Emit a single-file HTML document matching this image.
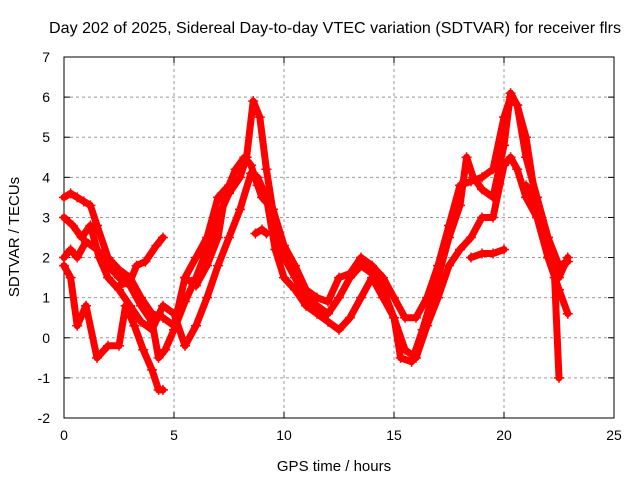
<!DOCTYPE html>
<html><head><meta charset="utf-8"><style>
body{margin:0;background:#fff}
svg{display:block;font-family:"Liberation Sans",sans-serif}
</style></head><body>
<svg id="chart" width="640" height="480" viewBox="0 0 640 480">
<rect width="640" height="480" fill="#fff"/>
<text x="335" y="33" font-size="16" text-anchor="middle" textLength="572" lengthAdjust="spacingAndGlyphs">Day 202 of 2025, Sidereal Day-to-day VTEC variation (SDTVAR) for receiver flrs</text>
<g id="grid"></g>
<g id="axes"></g>
<g id="series"></g>
<text x="334" y="471" font-size="15" text-anchor="middle">GPS time / hours</text>
<text x="0" y="0" font-size="15" text-anchor="middle" transform="translate(19,237) rotate(-90)">SDTVAR / TECUs</text>
</svg>
<script>
const xTicks=[0,5,10,15,20,25];
const yTicks=[-2,-1,0,1,2,3,4,5,6,7];
const sA_t=[0,0.3,0.6,0.9,1.2,1.5,2,2.5,3,3.5,4,4.5,5,5.5,6,6.5,7,7.5,7.8,8.2,8.5,8.8,9,9.5,10,10.5,11,11.5,12,12.5,13,13.5,14,14.5,15,15.5,16,16.5,17,17.5,18,18.5,19,19.5,20,20.3,20.6,21,21.5,22,22.5,22.9];
const sA_v=[3.5,3.6,3.5,3.4,3.3,2.8,2.0,1.7,1.5,1.0,0.6,0.5,0.3,1.5,2.0,2.5,3.5,3.8,4.2,4.5,4.3,3.8,3.5,3.2,2.3,1.8,1.2,1.0,0.9,1.5,1.6,2.0,1.8,1.5,1.0,0.5,0.5,1.0,1.8,2.8,3.8,3.9,4.0,4.2,5.5,6.0,5.8,4.5,3.5,2.5,1.8,1.9];
const sB_t=[0,0.3,0.6,1,1.5,2,2.5,3,3.5,4,4.3,4.6,5,5.5,6,6.5,7,7.5,8,8.3,8.6,8.9,9.2,9.6,10,10.5,11,11.5,12,12.5,13,13.5,14,14.5,15,15.3,15.8,16.3,17,17.5,18,18.3,18.6,19,19.5,20,20.3,20.6,21,21.5,22,22.5,22.9];
const sB_v=[2.0,2.2,2.0,2.4,2.2,1.8,1.5,1.3,0.8,0.4,-0.5,-0.3,0.2,0.9,1.5,2.2,3.0,3.6,4.0,4.5,5.9,5.5,4.2,2.8,2.0,1.5,1.0,0.8,0.6,1.0,1.5,1.8,1.6,1.2,0.5,-0.5,-0.6,0.2,1.5,2.5,3.3,4.5,4.0,3.7,3.5,4.8,6.1,5.8,5.0,3.2,2.0,1.2,0.6];
const sC_t=[0,0.4,0.8,1.2,1.6,2,2.5,3,3.5,4,4.5,5,5.5,6,6.5,7,7.5,8,8.5,8.8,9.2,9.6,10,10.5,11,11.5,12,12.5,13,13.5,14,14.5,15,15.5,16,16.5,17,17.5,18,18.5,19,19.5,20,20.3,20.6,21,21.5,22,22.3,22.5];
const sC_v=[3.0,2.8,2.5,2.8,2.0,1.5,1.2,0.8,0.4,0.2,0.8,0.6,-0.2,0.3,1.0,1.8,2.5,3.2,4.1,4.0,3.5,2.2,1.5,1.2,0.8,0.6,0.4,0.2,0.5,1.0,1.5,1.0,0.5,-0.3,-0.5,0.3,1.0,1.8,2.2,2.5,3.0,3.0,4.3,4.5,4.2,3.5,3.0,2.5,1.5,-1.0];
const sD_t=[0,0.3,0.6,1,1.5,2,2.5,2.8,3.2,3.6,4,4.3,4.5];
const sD_v=[1.8,1.5,0.3,0.8,-0.5,-0.2,-0.2,0.8,0.3,-0.3,-0.8,-1.3,-1.3];
const sE1_t=[2.5,3,3.3,3.7,4.2,4.5];
const sE1_v=[1.3,1.4,1.8,1.9,2.3,2.5];
const sE2_t=[5.5,6,6.5,7,7.3];
const sE2_v=[1.5,1.3,1.8,2.5,3.5];
const sE3_t=[8.7,9.0,9.2];
const sE3_v=[2.6,2.7,2.6];
const sE4_t=[18.5,19,19.5,20];
const sE4_v=[2.0,2.1,2.1,2.2];
const sE5_t=[21,21.5,22,22.5,22.9];
const sE5_v=[3.8,3.0,2.0,1.5,2.0];
const series=[[sA_t,sA_v],[sB_t,sB_v],[sC_t,sC_v],[sD_t,sD_v],[sE1_t,sE1_v],[sE2_t,sE2_v],[sE3_t,sE3_v],[sE4_t,sE4_v],[sE5_t,sE5_v]];
const X0=64,X1=614,Y0=418,Y1=57;
const xs=t=>X0+(t-0)/25*(X1-X0);
const ys=v=>Y0-(v+2)/9*(Y0-Y1);
const NS="http://www.w3.org/2000/svg";
function mk(tag,attrs,parent){const e=document.createElementNS(NS,tag);for(const k in attrs)e.setAttribute(k,attrs[k]);parent.appendChild(e);return e;}
const grid=document.getElementById('grid'),axes=document.getElementById('axes'),sg=document.getElementById('series');
xTicks.forEach(t=>{const x=xs(t);
 if(t>0&&t<25){const l=mk('line',{x1:x,y1:Y1,x2:x,y2:Y0,stroke:'#999','stroke-dasharray':'3,3'},grid);}
 mk('line',{x1:x,y1:Y0,x2:x,y2:Y0-6,stroke:'#000'},axes);mk('line',{x1:x,y1:Y1,x2:x,y2:Y1+6,stroke:'#000'},axes);
 const tx=mk('text',{x:x,y:Y0+22,'font-size':14,'text-anchor':'middle'},axes);tx.textContent=t;
 });
yTicks.forEach(v=>{const y=ys(v);
 if(v>-2&&v<7){const l=mk('line',{x1:X0,y1:y,x2:X1,y2:y,stroke:'#999','stroke-dasharray':'3,3'},grid);}
 mk('line',{x1:X0,y1:y,x2:X0+6,y2:y,stroke:'#000'},axes);mk('line',{x1:X1,y1:y,x2:X1-6,y2:y,stroke:'#000'},axes);
 const tx=mk('text',{x:X0-14,y:y+5,'font-size':14,'text-anchor':'end'},axes);tx.textContent=v;
 });
const box=mk('rect',{x:X0,y:Y1,width:X1-X0,height:Y0-Y1,fill:'none',stroke:'#000'},axes);

series.forEach((s,i)=>{const [T,V]=s;
 const pts=T.map((t,j)=>xs(t)+','+ys(V[j])).join(' ');
 const pl=mk('polyline',{points:pts,fill:'none',stroke:'#f00','stroke-width':7,'stroke-linejoin':'round','stroke-linecap':'round'},sg);
 
 
 T.forEach((t,j)=>{const x=xs(t),y=ys(V[j]);
  const p=mk('path',{d:`M${x-5},${y}h10M${x},${y-5}v10`,stroke:'#f00','stroke-width':1.5},sg);
  
  });});
</script>
</body></html>
